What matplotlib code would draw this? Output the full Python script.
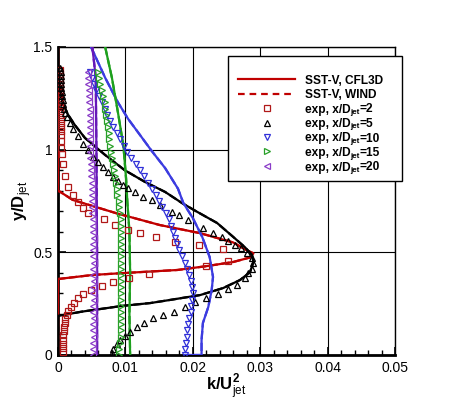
import numpy as np
import matplotlib
matplotlib.use('Agg')
import matplotlib.pyplot as plt
from matplotlib.lines import Line2D
from matplotlib.patches import Rectangle
from matplotlib.ticker import MultipleLocator

plt.rcParams['font.family'] = ['Liberation Sans', 'DejaVu Sans']
plt.rcParams['mathtext.fontset'] = 'custom'
plt.rcParams['mathtext.rm'] = 'Liberation Sans'
plt.rcParams['mathtext.bf'] = 'Liberation Sans:bold'

# ---- CFD (SST-V) profiles: k/Ujet^2 vs y/Djet ----
k_cfd2 = [0.0, 0.0, 0.0003, 0.0022, 0.0087, 0.0151, 0.0210, 0.0260, 0.0280, 0.0290,
          0.0285, 0.0260, 0.0221, 0.0177, 0.0102, 0.0052, 0.0, 0.0]
y_cfd2 = [1.5, 0.80, 0.795, 0.755, 0.69, 0.633, 0.594, 0.548, 0.51, 0.495,
          0.475, 0.453, 0.433, 0.414, 0.40, 0.39, 0.37, 0.0]

k_cfd5 = [0.0, 0.0, 0.0003, 0.0008, 0.0015, 0.0025, 0.0040, 0.0057, 0.0070, 0.0099,
          0.0129, 0.0159, 0.0184, 0.0205, 0.0236, 0.0260, 0.0277, 0.0288, 0.0290, 0.0285,
          0.0270, 0.0245, 0.0211, 0.0166, 0.0137, 0.0095, 0.0035, 0.0, 0.0]
y_cfd5 = [1.5, 1.36, 1.30, 1.22, 1.17, 1.12, 1.057, 1.01, 0.974, 0.90,
          0.843, 0.794, 0.74, 0.70, 0.643, 0.575, 0.526, 0.487, 0.453, 0.404,
          0.365, 0.326, 0.292, 0.268, 0.253, 0.239, 0.211, 0.19, 0.0]

k_cfd10 = [0.0049, 0.0070, 0.0089, 0.0104, 0.0122, 0.0139, 0.0159, 0.0178, 0.0186, 0.0200,
           0.0214, 0.0225, 0.0230, 0.0228, 0.0223, 0.0215, 0.0213, 0.0213, 0.0188]
y_cfd10 = [1.5, 1.35, 1.23, 1.15, 1.07, 0.994, 0.91, 0.81, 0.74, 0.667,
           0.575, 0.477, 0.38, 0.316, 0.234, 0.156, 0.073, 0.0, 0.0]

k_cfd15 = [0.0070, 0.0080, 0.0089, 0.0097, 0.0101, 0.0103, 0.0106, 0.0107, 0.0106, 0.0107]
y_cfd15 = [1.5, 1.35, 1.18, 1.02, 0.86, 0.74, 0.60, 0.40, 0.20, 0.0]

k_cfd20 = [0.0051, 0.0056, 0.0057, 0.0058, 0.0058]
y_cfd20 = [1.5, 1.35, 1.0, 0.5, 0.0]

# ---- experiment ----
k_exp2 = [0.0003, 0.0003, 0.0003, 0.0003, 0.0003, 0.0003, 0.0003, 0.0003, 0.0003, 0.0003,
          0.0003, 0.0003, 0.0004, 0.0004, 0.0004, 0.0004, 0.0004, 0.0005, 0.0005, 0.0006,
          0.0007, 0.0010, 0.0015, 0.0022, 0.0030, 0.0037, 0.0045, 0.0068, 0.0085, 0.0104,
          0.0122, 0.0145, 0.0174, 0.0209, 0.0245, 0.0252, 0.0220, 0.0135, 0.0105, 0.0082,
          0.0065, 0.0049, 0.0037, 0.0030, 0.0024, 0.0019, 0.0015, 0.0013, 0.0011, 0.0010,
          0.0009, 0.0009, 0.0008, 0.0008, 0.0008, 0.0008, 0.0008]
y_exp2 = [1.39, 1.37, 1.35, 1.33, 1.31, 1.29, 1.27, 1.25, 1.23, 1.21,
          1.19, 1.17, 1.15, 1.13, 1.11, 1.09, 1.07, 1.04, 1.01, 0.98,
          0.93, 0.87, 0.82, 0.78, 0.745, 0.716, 0.69, 0.66, 0.633, 0.61,
          0.594, 0.575, 0.55, 0.536, 0.516, 0.458, 0.433, 0.394, 0.375, 0.356,
          0.336, 0.316, 0.297, 0.278, 0.253, 0.234, 0.214, 0.195, 0.175, 0.155,
          0.135, 0.115, 0.095, 0.075, 0.055, 0.035, 0.015]

k_exp5 = [0.0003, 0.0004, 0.0004, 0.0005, 0.0005, 0.0005, 0.0006, 0.0006, 0.0007, 0.0008,
          0.0009, 0.0011, 0.0013, 0.0018, 0.0022, 0.0030, 0.0037, 0.0045, 0.0052, 0.0060,
          0.0067, 0.0074, 0.0082, 0.0089, 0.0096, 0.0104, 0.0114, 0.0126, 0.0139, 0.0151,
          0.0169, 0.0179, 0.0193, 0.0215, 0.0230, 0.0243, 0.0252, 0.0263, 0.0272, 0.0280,
          0.0288, 0.0290, 0.0288, 0.0282, 0.0277, 0.0266, 0.0252, 0.0237, 0.0220, 0.0203,
          0.0188, 0.0172, 0.0156, 0.0141, 0.0128, 0.0117, 0.0107, 0.0099, 0.0092, 0.0087,
          0.0082, 0.0080]
y_exp5 = [1.40, 1.38, 1.36, 1.34, 1.32, 1.30, 1.28, 1.26, 1.24, 1.22,
          1.20, 1.18, 1.16, 1.13, 1.10, 1.065, 1.03, 1.0, 0.965, 0.94,
          0.915, 0.89, 0.867, 0.845, 0.828, 0.813, 0.794, 0.77, 0.755, 0.73,
          0.697, 0.68, 0.658, 0.62, 0.594, 0.575, 0.555, 0.536, 0.52, 0.497,
          0.472, 0.448, 0.419, 0.40, 0.375, 0.341, 0.321, 0.297, 0.278, 0.258,
          0.234, 0.21, 0.195, 0.18, 0.156, 0.136, 0.112, 0.092, 0.073, 0.052,
          0.03, 0.01]

y_dense = [0.00, 0.03, 0.06, 0.09, 0.12, 0.15, 0.18, 0.21, 0.24, 0.27,
           0.30, 0.33, 0.36, 0.39, 0.42, 0.45, 0.48, 0.51, 0.54, 0.57,
           0.60, 0.63, 0.66, 0.69, 0.72, 0.75, 0.78, 0.81, 0.84, 0.87,
           0.90, 0.93, 0.96, 0.99, 1.02, 1.05, 1.08, 1.11, 1.14, 1.17,
           1.20, 1.23, 1.26, 1.29, 1.32, 1.35, 1.38]

k_exp10 = [0.0188, 0.0189, 0.0190, 0.0191, 0.0192, 0.0193, 0.0195, 0.0197, 0.0198, 0.0199,
           0.0200, 0.0199, 0.0197, 0.0195, 0.0192, 0.0188, 0.0184, 0.0180, 0.0177, 0.0173,
           0.0170, 0.0167, 0.0164, 0.0160, 0.0155, 0.0150, 0.0146, 0.0140, 0.0134, 0.0128,
           0.0121, 0.0115, 0.0109, 0.0103, 0.0098, 0.0092, 0.0087, 0.0082, 0.0077, 0.0073,
           0.0069, 0.0065, 0.0061, 0.0057, 0.0054, 0.0051, 0.0048]

k_exp15 = [0.0090, 0.0091, 0.0092, 0.0093, 0.0093, 0.0094, 0.0093, 0.0093, 0.0094, 0.0093,
           0.0093, 0.0094, 0.0093, 0.0093, 0.0094, 0.0093, 0.0093, 0.0093, 0.0094, 0.0093,
           0.0093, 0.0093, 0.0093, 0.0092, 0.0091, 0.0090, 0.0088, 0.0087, 0.0086, 0.0084,
           0.0083, 0.0081, 0.0080, 0.0079, 0.0077, 0.0076, 0.0075, 0.0074, 0.0073, 0.0071,
           0.0070, 0.0069, 0.0067, 0.0065, 0.0063, 0.0061, 0.0060]

k_exp20 = [0.0052, 0.0052, 0.0052, 0.0053, 0.0052, 0.0052, 0.0053, 0.0052, 0.0052, 0.0053,
           0.0052, 0.0052, 0.0053, 0.0052, 0.0052, 0.0053, 0.0052, 0.0052, 0.0052, 0.0053,
           0.0052, 0.0052, 0.0052, 0.0051, 0.0051, 0.0051, 0.0050, 0.0050, 0.0050, 0.0049,
           0.0049, 0.0049, 0.0048, 0.0048, 0.0048, 0.0048, 0.0047, 0.0047, 0.0047, 0.0047,
           0.0047, 0.0046, 0.0046, 0.0046, 0.0045, 0.0045, 0.0045]

stations = ['2', '5', '10', '15', '20']
x_ticks = [0, 0.01, 0.02, 0.03, 0.04, 0.05]
x_ticklabels = ['0', '0.01', '0.02', '0.03', '0.04', '0.05']
y_ticks = [0, 0.5, 1, 1.5]
y_ticklabels = ['0', '0.5', '1', '1.5']

red = '#c00000'
blue = '#3c3ce0'
green = '#1ea01e'
purple = '#6618b8'

W, H = 450, 401
fig = plt.figure(figsize=(W / 100, H / 100), dpi=100)
ax = fig.add_axes([58 / W, 1 - 355 / H, 337 / W, 308 / H])

lw = 1.6
cfd = [(k_cfd2, y_cfd2, red), (k_cfd5, y_cfd5, 'black'), (k_cfd10, y_cfd10, blue),
       (k_cfd15, y_cfd15, green), (k_cfd20, y_cfd20, purple)]
for kk, yy, c in cfd:
    # WIND results lie on top of CFL3D ones
    ax.plot(kk, yy, color=c, lw=lw, ls='--', zorder=3)
    ax.plot(kk, yy, color=c, lw=lw, zorder=3)

ms = 4.4
mk = dict(ls='none', mfc='none', mew=0.9, zorder=4)
exp = [(k_exp2, y_exp2, 's', '#b01818', 3.8), (k_exp5, y_exp5, '^', 'black', ms),
       (k_exp10, y_dense, 'v', '#3030d8', ms), (k_exp15, y_dense, '>', '#28a028', ms),
       (k_exp20, y_dense, '<', '#8a3cc8', ms)]
for kk, yy, m, c, s in exp:
    ax.plot(kk, yy, marker=m, mec=c, ms=s, **mk)

ax.set_xlim(0, 0.05)
ax.set_ylim(0, 1.5)
ax.set_xticks(x_ticks)
ax.set_xticklabels(x_ticklabels)
ax.set_yticks(y_ticks)
ax.set_yticklabels(y_ticklabels)
ax.xaxis.set_minor_locator(MultipleLocator(0.002))
ax.yaxis.set_minor_locator(MultipleLocator(0.1))
ax.tick_params(which='both', direction='in', labelsize=10, pad=4, top=False, right=False)
ax.tick_params(which='major', length=6, width=1.2)
ax.tick_params(which='minor', length=3.5, width=1.0)
ax.grid(True, which='major', color='black', lw=0.8)
for s in ['left', 'bottom']:
    ax.spines[s].set_linewidth(2)
for s in ['top', 'right']:
    ax.spines[s].set_linewidth(1)

ax.set_xlabel(r'$\mathbf{k/U}_{\rm jet}^{\mathbf{2}}$', fontsize=12, labelpad=-2)
ax.set_ylabel(r'$\mathbf{y/D}_{\rm jet}$', fontsize=12, labelpad=0)

# legend, laid out by hand in figure pixels (tecplot style box)
def fx(px):
    return px / W

def fy(py):
    return 1 - py / H

fig.add_artist(Rectangle((fx(228), fy(181)), fx(402) - fx(228), fy(56) - fy(181),
                         transform=fig.transFigure, facecolor='white',
                         edgecolor='black', lw=1.0, zorder=5))
renderer = fig.canvas.get_renderer()
rows = [79, 93.5, 108, 122.5, 137, 151.5, 166]
txt = dict(fontsize=8.6, fontweight='bold', va='baseline', ha='left', zorder=7)
for i, py in enumerate(rows):
    base = fy(py + 4.5)
    if i < 2:
        ls = '-' if i == 0 else (0, (3, 2.2))
        fig.add_artist(Line2D([fx(238), fx(295)], [fy(py), fy(py)], color=red, lw=lw, ls=ls,
                              transform=fig.transFigure, zorder=6))
        fig.text(fx(305), base, 'SST-V, CFL3D' if i == 0 else 'SST-V, WIND', **txt)
        continue
    _, _, m, c, s = exp[i - 2]
    fig.add_artist(Line2D([fx(266.5)], [fy(py)], marker=m, mec=c, mfc='none', ls='none',
                          ms=s, mew=0.9, transform=fig.transFigure, zorder=6))
    # "exp, x/D" + subscript "jet" + "=N"
    t1 = fig.text(fx(305), base, 'exp, x/D', **txt)
    x1 = t1.get_window_extent(renderer).x1
    t2 = fig.text(x1 / W, base - 1.5 / H, 'jet', fontsize=5.8, fontweight='bold',
                  va='baseline', ha='left', zorder=7)
    x2 = t2.get_window_extent(renderer).x1
    fig.text(x2 / W, base, '=' + stations[i - 2], **txt)

fig.savefig('out.png', dpi=100)
